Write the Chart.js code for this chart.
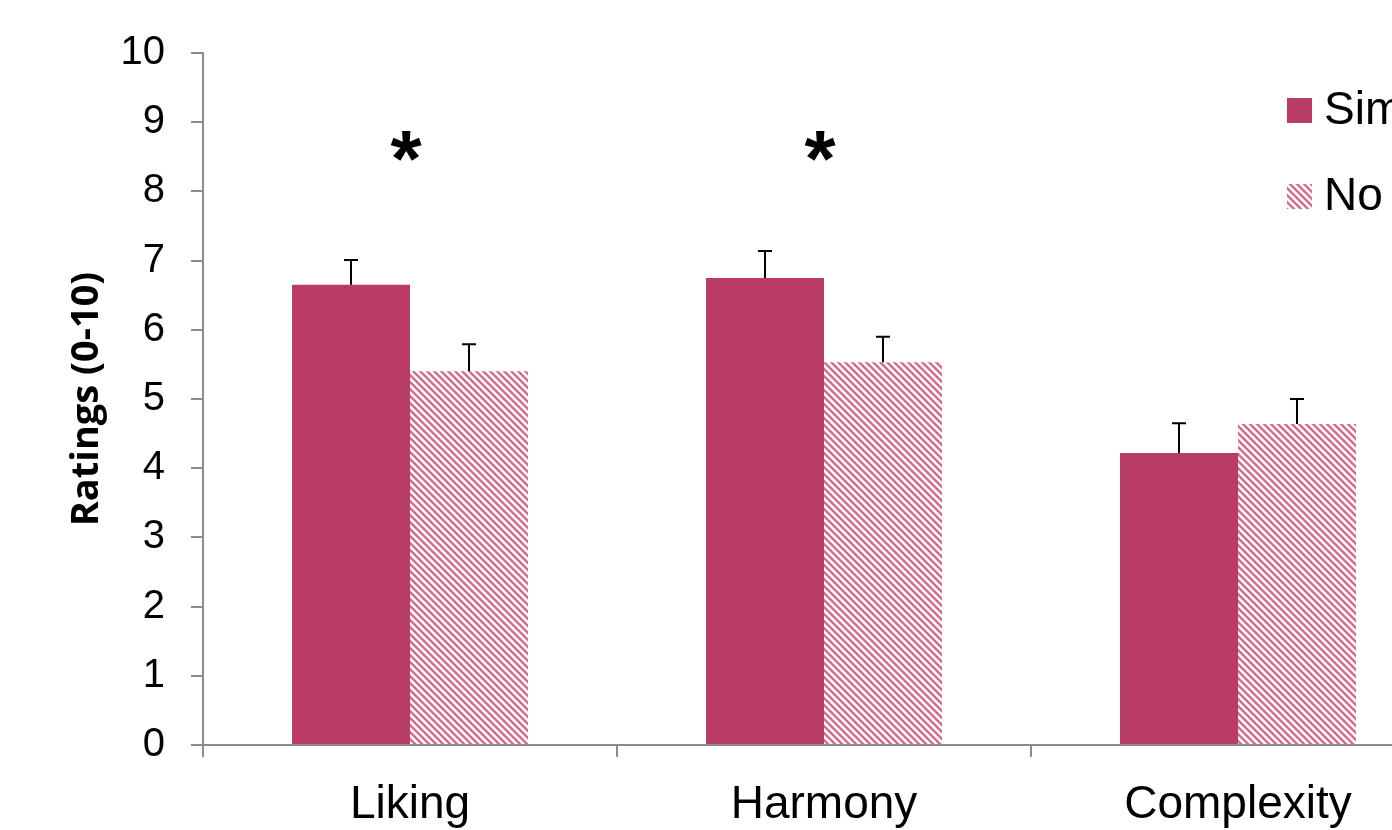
<!DOCTYPE html>
<html>
<head>
<meta charset="utf-8">
<script src="https://cdn.jsdelivr.net/npm/chart.js@4.4.1/dist/chart.umd.min.js"></script>
<style>
    html, body { margin: 0; padding: 0; background: #fff; overflow: hidden; }
    #wrap { width: 1392px; height: 830px; overflow: hidden; }
</style>
</head>
<body>
<div id="wrap">
    <canvas id="ratingsChart" width="1460" height="830"></canvas>
</div>
<script>
// Hodnocení podle kategorií
const categories = ['Liking', 'Harmony', 'Complexity'];
const seriesNames = ['Similar', 'No similarity'];
const simValues = [6.65, 6.75, 4.22];
const simErrors = [0.36, 0.39, 0.43];
const noValues = [5.40, 5.53, 4.64];
const noErrors = [0.39, 0.37, 0.36];
const significant = [true, true, false];
const yMin = 0;
const yMax = 10;
const yStep = 1;

const solidColor = '#b93c67';
const stripeColor = '#d46c92';
const axisColor = '#8c8c8c';

// Šrafovaná výplň
function makeHatch() {
    const n = 7;
    const tile = document.createElement('canvas');
    tile.width = n;
    tile.height = n;
    const c = tile.getContext('2d');
    c.fillStyle = '#fff';
    c.fillRect(0, 0, n, n);
    c.strokeStyle = stripeColor;
    c.lineWidth = 2.5;
    c.beginPath();
    c.moveTo(-1, -1); c.lineTo(n + 1, n + 1);
    c.moveTo(-1, n - 1); c.lineTo(1, n + 1);
    c.moveTo(n - 1, -1); c.lineTo(n + 1, 1);
    c.stroke();
    return document.getElementById('ratingsChart').getContext('2d').createPattern(tile, 'repeat');
}
const hatch = makeHatch();

// Chybové úsečky, hvězdičky a legenda
const extrasPlugin = {
    id: 'extras',
    afterDatasetsDraw(chart) {
        const ctx = chart.ctx;
        const y = chart.scales.y;
        const errs = [simErrors, noErrors];
        ctx.save();
        ctx.strokeStyle = '#000';
        ctx.lineWidth = 2;
        chart.data.datasets.forEach((ds, i) => {
            chart.getDatasetMeta(i).data.forEach((bar, j) => {
                const top = y.getPixelForValue(ds.data[j] + errs[i][j]);
                ctx.beginPath();
                ctx.moveTo(bar.x, bar.y);
                ctx.lineTo(bar.x, top);
                ctx.moveTo(bar.x - 7, top);
                ctx.lineTo(bar.x + 7, top);
                ctx.stroke();
            });
        });

        ctx.fillStyle = '#000';
        ctx.font = 'bold 80px "Liberation Sans", Arial, sans-serif';
        ctx.textAlign = 'center';
        ctx.textBaseline = 'middle';
        const x = chart.scales.x;
        significant.forEach((sig, j) => {
            if (!sig) return;
            ctx.fillText('*', x.getPixelForValue(j) - 4, y.getPixelForValue(8.65) + 18);
        });

        // legenda vpravo nahoře
        const lx = 1287;
        const rows = [{ fill: solidColor, cy: 110 }, { fill: hatch, cy: 196 }];
        ctx.font = '46px "Liberation Sans", Arial, sans-serif';
        ctx.textAlign = 'left';
        rows.forEach((r, i) => {
            ctx.fillStyle = r.fill;
            ctx.fillRect(lx, r.cy - 12, 25, 25);
            ctx.fillStyle = '#000';
            ctx.fillText(seriesNames[i], lx + 37, r.cy + 1);
        });
        ctx.restore();
    }
};

new Chart(document.getElementById('ratingsChart'), {
    type: 'bar',
    data: {
        labels: categories,
        datasets: [{
            label: seriesNames[0],
            data: simValues,
            backgroundColor: solidColor,
            borderWidth: 0
        }, {
            label: seriesNames[1],
            data: noValues,
            backgroundColor: hatch,
            borderWidth: 0
        }]
    },
    options: {
        responsive: false,
        devicePixelRatio: 1,
        animation: false,
        layout: { padding: { top: 53, right: 15, left: 0, bottom: 0 } },
        datasets: {
            bar: { categoryPercentage: 0.57, barPercentage: 1.0 }
        },
        plugins: {
            legend: { display: false },
            tooltip: { enabled: false }
        },
        scales: {
            x: {
                grid: {
                    offset: true,
                    drawOnChartArea: false,
                    color: axisColor,
                    lineWidth: 2,
                    tickLength: 12
                },
                border: { color: axisColor, width: 2 },
                ticks: {
                    color: '#000',
                    padding: 21,
                    font: { family: '"Liberation Sans", Arial, sans-serif', size: 46 }
                },
                afterFit(scale) { scale.height = 85; }
            },
            y: {
                min: yMin,
                max: yMax,
                ticks: {
                    stepSize: yStep,
                    color: '#000',
                    padding: 26,
                    font: { family: '"Liberation Sans", Arial, sans-serif', size: 40 }
                },
                grid: {
                    drawOnChartArea: false,
                    color: axisColor,
                    lineWidth: 2,
                    tickLength: 12
                },
                border: { color: axisColor, width: 2 },
                title: {
                    display: true,
                    text: 'Ratings (0-10)',
                    color: '#000',
                    padding: { top: 64, bottom: 0 },
                    font: { family: '"Open Sans", Lato, sans-serif', size: 38, weight: 'bold' }
                },
                afterFit(scale) { scale.width = 203; }
            }
        }
    },
    plugins: [extrasPlugin]
});
</script>
</body>
</html>
